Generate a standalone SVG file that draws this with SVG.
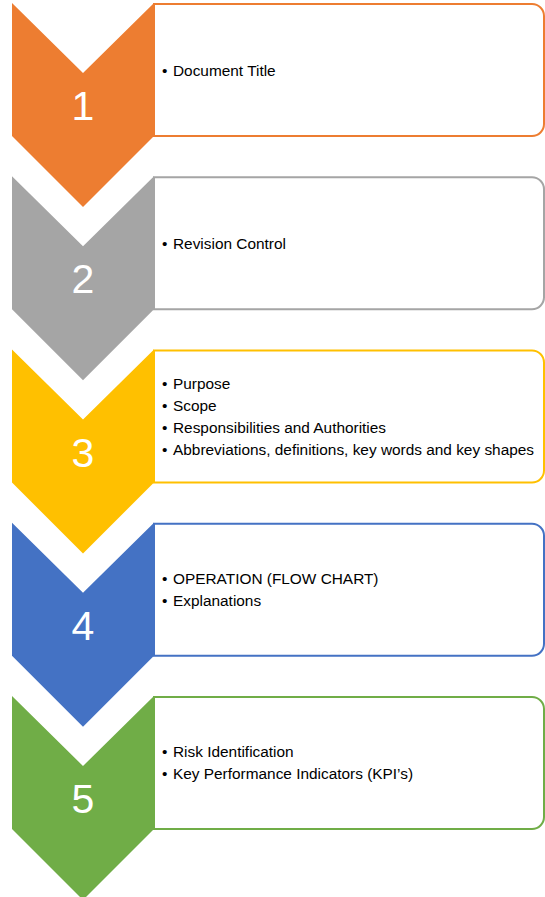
<svg xmlns="http://www.w3.org/2000/svg" width="545" height="897" viewBox="0 0 545 897">
<style>
.box{fill:#fff;stroke-width:2}
.num{font-family:"Liberation Sans",Arial,sans-serif;font-size:41px;fill:#fff;text-anchor:middle}
.txt{font-family:"Liberation Sans",Arial,sans-serif;font-size:15.4px;fill:#000}
</style>
<defs>
<path id="chev" d="M12,3 L83,73 L154,3 L154,136 L83,207 L12,136 Z"/>
<path id="card" d="M154,4 H532 A12,12 0 0 1 544,16 V124 A12,12 0 0 1 532,136 H154 Z"/>
</defs>
<rect width="545" height="897" fill="#fff"/>
<g id="connectors"></g>
<g id="node1">
<use href="#card" class="box" stroke="#ED7D31"/>
<use href="#chev" fill="#ED7D31"/>
<text class="num" x="83" y="120">1</text>
<text class="txt" y="75.5"><tspan x="162">•</tspan><tspan x="173">Document Title</tspan></text>
</g>
<g id="node2" transform="translate(0,173.25)">
<use href="#card" class="box" stroke="#A5A5A5"/>
<use href="#chev" fill="#A5A5A5"/>
<text class="num" x="83" y="120">2</text>
<text class="txt" y="75.5"><tspan x="162">•</tspan><tspan x="173">Revision Control</tspan></text>
</g>
<g id="node3" transform="translate(0,346.5)">
<use href="#card" class="box" stroke="#FFC000"/>
<use href="#chev" fill="#FFC000"/>
<text class="num" x="83" y="120">3</text>
<text class="txt" y="42"><tspan x="162">•</tspan><tspan x="173">Purpose</tspan></text>
<text class="txt" y="64.3"><tspan x="162">•</tspan><tspan x="173">Scope</tspan></text>
<text class="txt" y="86.6"><tspan x="162">•</tspan><tspan x="173">Responsibilities and Authorities</tspan></text>
<text class="txt" y="108.9"><tspan x="162">•</tspan><tspan x="173">Abbreviations, definitions, key words and key shapes</tspan></text>
</g>
<g id="node4" transform="translate(0,519.75)">
<use href="#card" class="box" stroke="#4472C4"/>
<use href="#chev" fill="#4472C4"/>
<text class="num" x="83" y="120">4</text>
<text class="txt" y="64"><tspan x="162">•</tspan><tspan x="173">OPERATION (FLOW CHART)</tspan></text>
<text class="txt" y="86.3"><tspan x="162">•</tspan><tspan x="173">Explanations</tspan></text>
</g>
<g id="node5" transform="translate(0,693)">
<use href="#card" class="box" stroke="#70AD47"/>
<use href="#chev" fill="#70AD47"/>
<text class="num" x="83" y="120">5</text>
<text class="txt" y="64"><tspan x="162">•</tspan><tspan x="173">Risk Identification</tspan></text>
<text class="txt" y="86.3"><tspan x="162">•</tspan><tspan x="173">Key Performance Indicators (KPI’s)</tspan></text>
</g>
</svg>
